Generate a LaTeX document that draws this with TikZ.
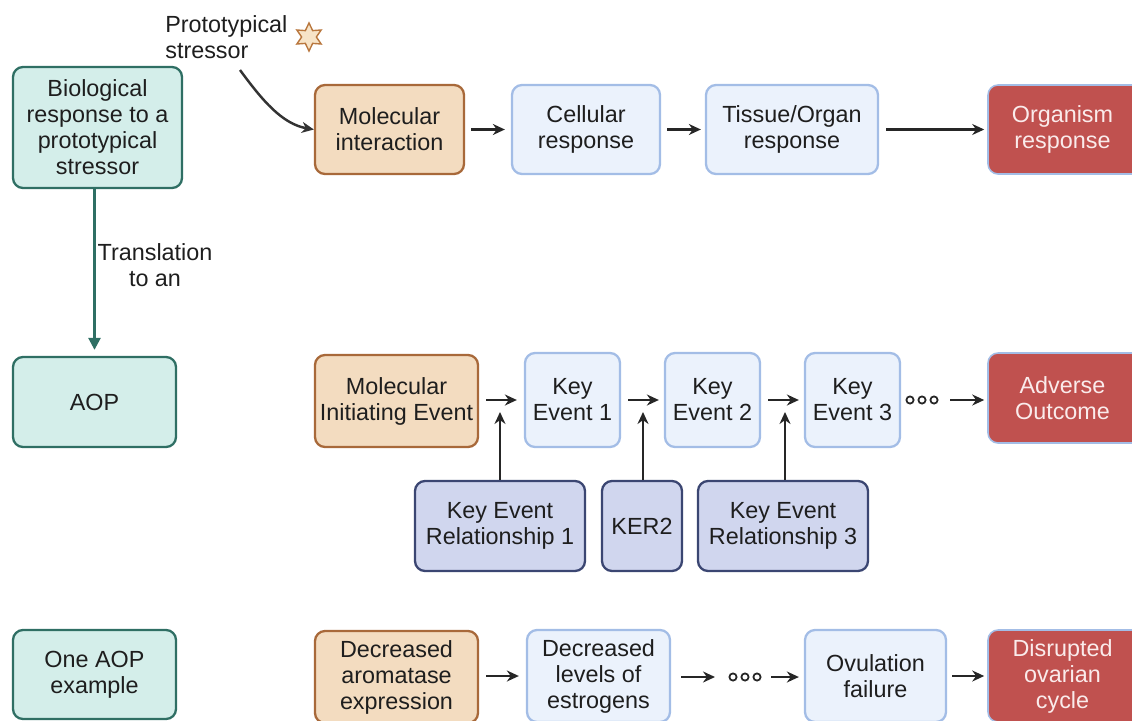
\documentclass[tikz,border=0pt]{standalone}
\usepackage{fontspec}
\setmainfont{Liberation Sans}
\usetikzlibrary{arrows.meta,shapes.geometric}
\definecolor{tealF}{HTML}{D4EEEA}
\definecolor{tealD}{HTML}{2F6F64}
\definecolor{tanF}{HTML}{F3DCC0}
\definecolor{tanD}{HTML}{A8693A}
\definecolor{blueF}{HTML}{EBF2FC}
\definecolor{blueD}{HTML}{A3BDE6}
\definecolor{kerF}{HTML}{D0D6EE}
\definecolor{kerD}{HTML}{3B4672}
\definecolor{redF}{HTML}{C0514F}
\definecolor{redT}{HTML}{FAEBEB}
\definecolor{txt}{HTML}{1E1E1E}
\definecolor{starF}{HTML}{F7E4C8}
\definecolor{starD}{HTML}{B9773E}
\tikzset{
  px/.style={x=0.02cm,y=-0.02cm},
  base/.style={rounded corners=0.2cm, line width=1.3pt, align=center, inner sep=0pt,
    font=\fontsize{13.3}{14.8}\selectfont, text=txt},
  sz/.style 2 args={minimum width=#1*0.02cm, minimum height=#2*0.02cm},
  tealbox/.style={base, draw=tealD, fill=tealF},
  tanbox/.style={base, draw=tanD, fill=tanF},
  bluebox/.style={base, draw=blueD, fill=blueF},
  kerbox/.style={base, draw=kerD, fill=kerF},
  redbox/.style={base, draw=blueD, line width=0.9pt, fill=redF, text=redT},
  arr/.style={line width=1.4pt, -{Stealth[length=0.24cm,width=0.22cm]}, draw=black!85},
  tarr/.style={line width=1.4pt, -{Triangle[length=0.24cm,width=0.24cm]}, draw=tealD},
  lbl/.style={font=\fontsize{13.3}{14.8}\selectfont, text=txt, align=center, inner sep=0pt},
  ring/.style={draw=black!85, line width=1pt, fill=white},
}
\begin{document}
\begin{tikzpicture}[px]
\useasboundingbox (0,0) rectangle (1132,720);
\clip (0,0) rectangle (1132,720);
% left column
\node[tealbox, sz={169}{121}] (bio) at (97.5,127.5) {Biological\\response to a\\prototypical\\stressor};
\node[tealbox, sz={163}{90}] (aop) at (94.5,402) {AOP};
\node[tealbox, sz={163}{89}] (ex) at (94.5,674.5) {One AOP\\example};
\draw[tarr, shorten >=6*0.02cm] (aop.north |- bio.south) -- (aop.north);
\node[lbl] (trans) at (155,265) {Translation\\to an};
% stressor
\node[lbl, align=left, anchor=west] (stress) at (165,37) {Prototypical\\stressor};
\node[star, star points=6, star point ratio=1.9, minimum size=28*0.02cm, inner sep=0pt,
  draw=starD, fill=starF, line width=0.8pt] (star) at (309,37) {};
% row 1
\node[tanbox, sz={149}{89}] (mi) at (389.5,129.5) {Molecular\\interaction};
\node[bluebox, sz={148}{89}] (cell) at (586,129.5) {Cellular\\response};
\node[bluebox, sz={172}{89}] (tis) at (792,129.5) {Tissue/Organ\\response};
\node[redbox, sz={157}{89}] (org) at (1066.5,129.5) {\hspace*{-8\dimexpr0.02cm\relax}Organism\\\hspace*{-8\dimexpr0.02cm\relax}response};
\coordinate (s0) at (240,70);
\draw[arr, draw=black!80] (s0) .. controls (262,100) and (282,124) .. (mi.west);
\draw[arr, shorten <=6*0.02cm, shorten >=6*0.02cm] (mi) -- (cell);
\draw[arr, shorten <=6*0.02cm, shorten >=4*0.02cm] (cell) -- (tis);
\draw[arr, shorten <=7*0.02cm, shorten >=3*0.02cm] (tis) -- (org.west |- tis.east);
% row 2
\node[tanbox, sz={163}{92}] (mie) at (396.5,401) {Molecular\\Initiating Event};
\node[bluebox, sz={95}{94}] (ke1) at (572.5,400) {Key\\Event 1};
\node[bluebox, sz={95}{94}] (ke2) at (712.5,400) {Key\\Event 2};
\node[bluebox, sz={95}{94}] (ke3) at (852.5,400) {Key\\Event 3};
\node[redbox, sz={157}{90}] (ao) at (1066.5,398) {\hspace*{-8\dimexpr0.02cm\relax}Adverse\\\hspace*{-8\dimexpr0.02cm\relax}Outcome};
\draw[arr, shorten <=7*0.02cm, shorten >=7*0.02cm] (mie.east |- ke1.west) -- (ke1.west);
\draw[arr, shorten <=7*0.02cm, shorten >=5*0.02cm] (ke1) -- (ke2);
\draw[arr, shorten <=7*0.02cm, shorten >=5*0.02cm] (ke2) -- (ke3);
\coordinate (dots) at (922,400);
\foreach \dx in {-12,0,12} \draw[ring] ([xshift=\dx*0.02cm]dots) circle (3.6*0.02cm);
\draw[arr, shorten <=28*0.02cm, shorten >=3*0.02cm] (dots) -- (ao.west |- dots);
% KER
\node[kerbox, sz={170}{90}] (ker1) at (500,526) {Key Event\\Relationship 1};
\node[kerbox, sz={80}{90}] (ker2) at (642,526) {KER2};
\node[kerbox, sz={170}{90}] (ker3) at (783,526) {Key Event\\Relationship 3};
\coordinate (j1) at (500,412);
\coordinate (j2) at (643,412);
\coordinate (j3) at (785,412);
\draw[arr] (ker1.north) -- (j1);
\draw[arr] (ker2.north -| j2) -- (j2);
\draw[arr] (ker3.north -| j3) -- (j3);
% row 3
\node[tanbox, sz={163}{92}] (dae) at (396.5,677) {Decreased\\aromatase\\expression};
\node[bluebox, sz={143}{92}] (dle) at (598.5,676) {Decreased\\levels of\\estrogens};
\node[bluebox, sz={141}{92}] (ovf) at (875.5,676) {Ovulation\\failure};
\node[redbox, sz={157}{92}] (doc) at (1066.5,676) {\hspace*{-8\dimexpr0.02cm\relax}Disrupted\\\hspace*{-8\dimexpr0.02cm\relax}ovarian\\\hspace*{-8\dimexpr0.02cm\relax}cycle};
\draw[arr, shorten <=7*0.02cm, shorten >=7*0.02cm] (dae.east |- dle.west) -- (dle.west);
\coordinate (dots2) at (745,677);
\foreach \dx in {-12,0,12} \draw[ring] ([xshift=\dx*0.02cm]dots2) circle (3.6*0.02cm);
\draw[arr, shorten <=10*0.02cm, shorten >=30*0.02cm] (dle.east |- dots2) -- (dots2);
\draw[arr, shorten <=26*0.02cm, shorten >=5*0.02cm] (dots2) -- (ovf.west |- dots2);
\draw[arr, shorten <=5*0.02cm, shorten >=3*0.02cm] (ovf.east |- doc.west) -- (doc.west);
\end{tikzpicture}
\end{document}
